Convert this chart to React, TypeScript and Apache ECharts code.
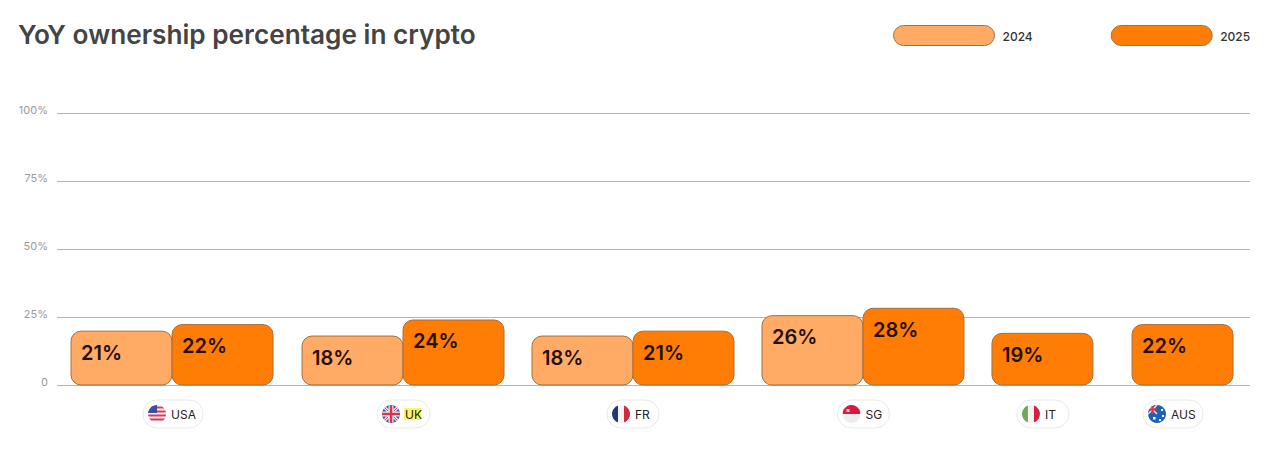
import React, { useEffect, useRef } from "react";
import * as echarts from "echarts";

const titleText = "YoY ownership percentage in crypto";
const yTicks = [0, 25, 50, 75, 100];
const seriesNames = ["2024", "2025"];
const countries = ["USA", "UK", "FR", "SG", "IT", "AUS"];
// Axis positions are counted in bar widths from the left of the plot
const groupStarts = [0.139, 2.426, 4.703, 6.98, 9.257, 10.644];
const pillCentres = [1.149, 3.431, 5.703, 7.985, 9.762, 11.05];
const heights2024 = [19.8, 18, 18, 25.5, null, null];
const heights2025 = [22.2, 23.9, 19.8, 28.2, 19, 22.2];
const labels2024 = ["21%", "18%", "18%", "26%", "", ""];
const labels2025 = ["22%", "24%", "21%", "28%", "19%", "22%"];

const FONT = "Inter, 'Noto Sans', sans-serif";
const LIGHT = "#FFAB66";
const DARK = "#FF7D05";
const EDGE = "#A5703F";
const PILL_ICON = "path://M10 0H91A10 10 0 0 1 91 20H10A10 10 0 0 1 10 0Z";

const rect = (x: number, y: number, width: number, height: number, fill: string) => ({
  type: "rect",
  shape: { x, y, width, height },
  style: { fill },
});
const bar = (x1: number, y1: number, x2: number, y2: number, w: number, stroke: string) => ({
  type: "line",
  shape: { x1, y1, x2, y2 },
  style: { stroke, lineWidth: w },
});

function flagParts(code: string): any[] {
  const r = 9;
  switch (code) {
    case "USA":
      return [
        rect(-r, -r, 18, 18, "#F4F4F6"),
        ...[-7.5, -3.5, 0.5, 4.5].map((y) => rect(-r, y, 18, 2, "#DB3A56")),
        rect(-r, -r, 9, 8, "#3A4FA0"),
      ];
    case "UK":
      return [
        rect(-r, -r, 18, 18, "#3F55A5"),
        bar(-r, -r, r, r, 3, "#F0F0F4"),
        bar(-r, r, r, -r, 3, "#F0F0F4"),
        bar(-r, -r, r, r, 1, "#D8344E"),
        bar(-r, r, r, -r, 1, "#D8344E"),
        rect(-r, -2.5, 18, 5, "#F0F0F4"),
        rect(-2.5, -r, 5, 18, "#F0F0F4"),
        rect(-r, -1.25, 18, 2.5, "#D8344E"),
        rect(-1.25, -r, 2.5, 18, "#D8344E"),
      ];
    case "FR":
      return [rect(-r, -r, 6, 18, "#1F3A78"), rect(-3, -r, 6, 18, "#F4F4F6"), rect(3, -r, 6, 18, "#D22B3C")];
    case "SG":
      return [rect(-r, -r, 18, 9, "#D9193F"), rect(-r, 0, 18, 9, "#EDEDEF"), rect(-5, -5, 3, 3, "#F4C9D0")];
    case "IT":
      return [rect(-r, -r, 6, 18, "#6FA85C"), rect(-3, -r, 6, 18, "#F4F4F6"), rect(3, -r, 6, 18, "#D3203F")];
    default:
      return [
        rect(-r, -r, 18, 18, "#1E62B8"),
        rect(-r, -r, 9, 9, "#33548F"),
        bar(-r, -r, 0, 0, 1.5, "#E8E8F0"),
        bar(-r, 0, 0, -r, 1.5, "#E8E8F0"),
        rect(-r, -5.5, 9, 2, "#D8344E"),
        rect(-5.5, -r, 2, 9, "#D8344E"),
        rect(-4, 3, 2.5, 2.5, "#FFFFFF"),
        rect(4, -5, 2, 2, "#FFFFFF"),
        rect(5, 1, 2, 2, "#FFFFFF"),
        rect(2, 5, 2, 2, "#FFFFFF"),
      ];
  }
}

const barRender = (values: (number | null)[], labels: string[], fill: string, slot: (i: number) => number) =>
  (params: any, api: any) => {
    const i = params.dataIndex;
    const start = api.value(0) as number;
    const value = values[i];
    if (value == null) return { type: "group", children: [] };
    const a = api.coord([start + slot(i), value]);
    const b = api.coord([start + slot(i) + 1, 0]);
    return {
      type: "group",
      children: [
        {
          type: "rect",
          shape: { x: a[0], y: a[1], width: b[0] - a[0], height: b[1] - a[1], r: 10 },
          style: { fill, stroke: EDGE, lineWidth: 1 },
        },
        {
          type: "text",
          style: {
            x: a[0] + 10,
            y: a[1] + 21.5,
            text: labels[i],
            fontFamily: FONT,
            fontSize: 20,
            fontWeight: 600,
            fill: "#241006",
            align: "left",
            verticalAlign: "middle",
          },
        },
      ],
    };
  };

const pillRender = (params: any, api: any) => {
  const i = params.dataIndex;
  const [cx, base] = api.coord([api.value(0), 0]);
  const name = countries[i];
  const cy = base + 29;
  const w = name.length === 3 ? 60 : name === "UK" ? 53 : 52;
  const left = cx - w / 2;
  const flagX = left + 14;
  const textX = left + 28;
  const children: any[] = [
    {
      type: "rect",
      shape: { x: left, y: cy - 14, width: w, height: 28, r: 14 },
      style: { fill: "#FFFFFF", stroke: "#E9E9E9", lineWidth: 1 },
    },
    {
      type: "group",
      x: flagX,
      y: cy,
      clipPath: { type: "circle", shape: { cx: 0, cy: 0, r: 9 } },
      children: flagParts(name),
    },
  ];
  if (name === "UK") children.push(rect(textX - 1, cy - 6, 17, 12, "#F6F66A"));
  children.push({
    type: "text",
    style: {
      x: textX,
      y: cy,
      text: name,
      fontFamily: FONT,
      fontSize: 12,
      fill: "#222222",
      align: "left",
      verticalAlign: "middle",
    },
  });
  return { type: "group", children };
};

export default function App() {
  const ref = useRef<HTMLDivElement>(null);
  useEffect(() => {
    document.body.style.margin = "0";
    const chart = echarts.init(ref.current!, null, { renderer: "svg" });
    chart.setOption({
      animation: false,
      backgroundColor: "#FFFFFF",
      title: {
        text: titleText,
        left: 13,
        top: 16,
        textStyle: { fontFamily: FONT, fontSize: 26.2, fontWeight: 600, color: "#444444" },
      },
      legend: {
        left: 888,
        top: 20,
        itemWidth: 101,
        itemHeight: 20,
        itemGap: 78,
        itemStyle: { borderColor: EDGE, borderWidth: 1 },
        icon: PILL_ICON,
        selectedMode: false,
        data: seriesNames,
        formatter: (name: string) => `{t|${name}}`,
        textStyle: {
          rich: {
            t: { fontFamily: FONT, fontSize: 12, fontWeight: 500, color: "#333333", padding: [2, 0, 0, 3] },
          },
        },
      },
      grid: { left: 57, right: 18, top: 113, height: 272 },
      xAxis: { type: "value", min: 0, max: 1193 / 101, show: false },
      yAxis: {
        type: "value",
        min: yTicks[0],
        max: yTicks[yTicks.length - 1],
        interval: yTicks[1] - yTicks[0],
        axisLine: { show: false },
        axisTick: { show: false },
        axisLabel: {
          margin: 9,
          fontFamily: FONT,
          fontSize: 11,
          color: "#9A9A9A",
          verticalAlign: "bottom",
          lineHeight: 6,
          formatter: (v: number) => (v === 0 ? "0" : `${v}%`),
        },
        splitLine: { lineStyle: { color: "#B4B4B4", width: 1 } },
      },
      series: [
        {
          type: "custom",
          name: seriesNames[0],
          itemStyle: { color: LIGHT },
          clip: false,
          z: 3,
          encode: { x: 0, y: 1 },
          data: groupStarts.map((s, i) => [s, heights2024[i] ?? 0]),
          renderItem: barRender(heights2024, labels2024, LIGHT, () => 0),
        },
        {
          type: "custom",
          name: seriesNames[1],
          itemStyle: { color: DARK },
          clip: false,
          z: 4,
          encode: { x: 0, y: 1 },
          data: groupStarts.map((s, i) => [s, heights2025[i]]),
          renderItem: barRender(heights2025, labels2025, DARK, (i) => (heights2024[i] == null ? 0 : 1)),
        },
        {
          type: "custom",
          name: "countries",
          clip: false,
          z: 5,
          encode: { x: 0, y: 1 },
          data: pillCentres.map((c) => [c, 0]),
          renderItem: pillRender,
        },
      ],
    });
    return () => chart.dispose();
  }, []);
  return <div ref={ref} style={{ position: "fixed", left: 0, top: 0, width: 1268, height: 454 }} />;
}
